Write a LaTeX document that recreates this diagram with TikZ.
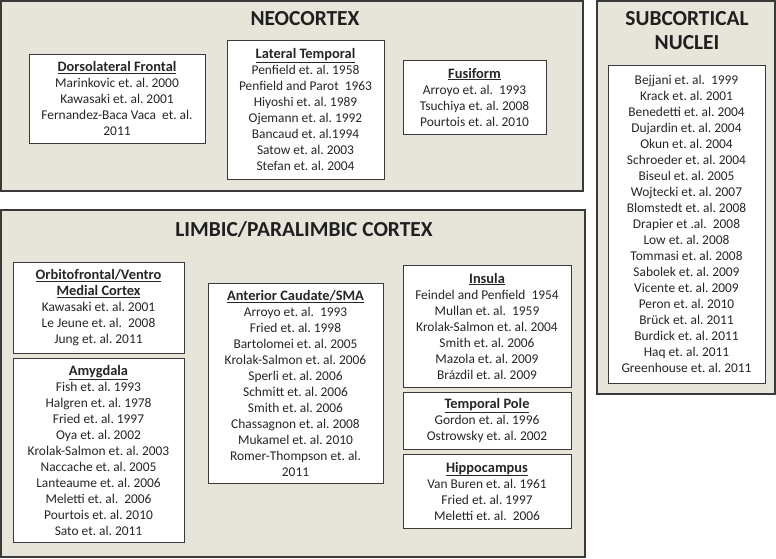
\documentclass[tikz,border=0pt]{standalone}
\usepackage{fontspec}
\setmainfont{Carlito}
\frenchspacing
\definecolor{panelfill}{HTML}{E7E4D9}
\definecolor{edgegray}{HTML}{3A3A3A}
\definecolor{inkgray}{HTML}{262626}
\newcommand{\boxhead}[1]{{\fontsize{14.4}{16}\selectfont\underline{\textbf{#1}}}}

\begin{document}
\begin{tikzpicture}[x=1pt,y=-1pt,
        panel/.style={draw=edgegray,line width=1.3pt,fill=panelfill},
        refbox/.style={draw=edgegray,line width=1pt,fill=white,align=center,
          text=inkgray,font=\fontsize{13.4}{16}\selectfont,inner sep=1pt},
        paneltitle/.style={font=\fontsize{21.4}{24}\selectfont\bfseries,text=black!88,align=center}]
        \useasboundingbox (0,0) rectangle (776,558);

        % neocortex
        \draw [panel] (1,1) rectangle (583,191);
        \node [paneltitle] (neotitle) at (305,19) {NEOCORTEX};
        \node [refbox,minimum width=176pt,minimum height=89pt] (dlfrontal) at (117,98.5)
          {\boxhead{Dorsolateral Frontal}\\Marinkovic et. al. 2000\\Kawasaki et. al. 2001\\Fernandez-Baca Vaca\ \ et. al.\\2011};
        \node [refbox,minimum width=157pt,minimum height=139pt] (lattemp) at (305.5,109.5)
          {\boxhead{Lateral Temporal}\\Penfield et. al. 1958\\Penfield and Parot\ \ 1963\\Hiyoshi et. al. 1989\\Ojemann et. al. 1992\\Bancaud et. al.1994\\Satow et. al. 2003\\Stefan et. al. 2004};
        \node [refbox,minimum width=143pt,minimum height=74pt] (fusiform) at (474.5,97)
          {\boxhead{Fusiform}\\Arroyo et. al.\ \ 1993\\Tsuchiya et. al. 2008\\Pourtois et. al. 2010};

        % subcortical nuclei
        \draw [panel] (597,1) rectangle (775,394);
        \node [paneltitle] (subtitle) at (687,31) {SUBCORTICAL\\NUCLEI};
        \node [refbox,minimum width=157pt,minimum height=318pt] (nuclei) at (686.5,224)
          {Bejjani et. al.\ \ 1999\\Krack et. al. 2001\\Benedetti et. al. 2004\\Dujardin et. al. 2004\\Okun et. al. 2004\\Schroeder et. al. 2004\\Biseul et. al. 2005\\Wojtecki et. al. 2007\\Blomstedt et. al. 2008\\Drapier et .al.\ \ 2008\\Low et. al. 2008\\Tommasi et. al. 2008\\Sabolek et. al. 2009\\Vicente et. al. 2009\\Peron et. al. 2010\\Brück et. al. 2011\\Burdick et. al. 2011\\Haq et. al. 2011\\Greenhouse et. al. 2011};

        % limbic / paralimbic cortex
        \draw [panel] (1,210) rectangle (585,557);
        \node [paneltitle] (limbtitle) at (304,229) {LIMBIC/PARALIMBIC CORTEX};
        \node [refbox,minimum width=171pt,minimum height=91pt] (orbito) at (98.5,307.5)
          {\boxhead{Orbitofrontal/Ventro}\\\boxhead{Medial Cortex}\\Kawasaki et. al. 2001\\Le Jeune et. al.\ \ 2008\\Jung et. al. 2011};
        \node [refbox,minimum width=171pt,minimum height=184pt] (amygdala) at (98.5,450)
          {\boxhead{Amygdala}\\Fish et. al. 1993\\Halgren et. al. 1978\\Fried et. al. 1997\\Oya et. al. 2002\\Krolak-Salmon et. al. 2003\\Naccache et. al. 2005\\Lanteaume et. al. 2006\\Meletti et. al.\ \ 2006\\Pourtois et. al. 2010\\Sato et. al. 2011};
        \node [refbox,minimum width=175pt,minimum height=200pt] (antcaud) at (295.5,383)
          {\boxhead{Anterior Caudate/SMA}\\Arroyo et. al.\ \ 1993\\Fried et. al. 1998\\Bartolomei et. al. 2005\\Krolak-Salmon et. al. 2006\\Sperli et. al. 2006\\Schmitt et. al. 2006\\Smith et. al. 2006\\Chassagnon et. al. 2008\\Mukamel et. al. 2010\\Romer-Thompson et. al.\\2011};
        \node [refbox,minimum width=168pt,minimum height=122pt] (insula) at (487,326)
          {\boxhead{Insula}\\Feindel and Penfield\ \ 1954\\Mullan et. al.\ \ 1959\\Krolak-Salmon et. al. 2004\\Smith et. al. 2006\\Mazola et. al. 2009\\Brázdil et. al. 2009};
        \node [refbox,minimum width=168pt,minimum height=57pt] (tpole) at (487,420.5)
          {\boxhead{Temporal Pole}\\Gordon et. al. 1996\\Ostrowsky et. al. 2002};
        \node [refbox,minimum width=168pt,minimum height=74pt] (hippo) at (487,491)
          {\boxhead{Hippocampus}\\Van Buren et. al. 1961\\Fried et. al. 1997\\Meletti et. al.\ \ 2006};
\end{tikzpicture}
\end{document}
